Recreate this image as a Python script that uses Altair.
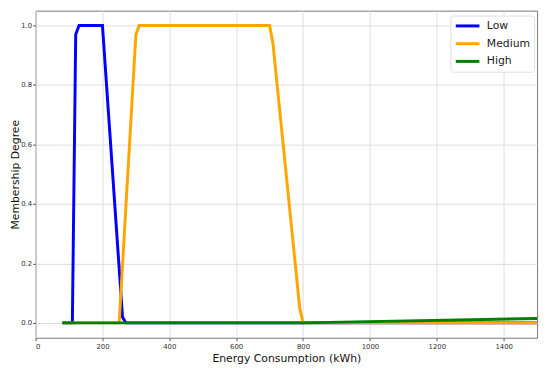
import altair as alt
import pandas as pd

low_x = [80, 110, 120, 130, 200, 260, 270, 1500]
low_y = [0.0, 0.0, 0.97, 1.0, 1.0, 0.02, 0.0, 0.0]
med_x = [80, 250, 300, 310, 700, 710, 790, 800, 1500]
med_y = [0.0, 0.0, 0.97, 1.0, 1.0, 0.94, 0.05, 0.0, 0.0]
high_x = [80, 800, 1500]
high_y = [0.0, 0.0, 0.015]

series = ["Low", "Medium", "High"]
colors = ["#0000ff", "#ffa500", "#008000"]

rows = []
for name, xs, ys in [("Low", low_x, low_y), ("Medium", med_x, med_y), ("High", high_x, high_y)]:
    for i, (x, y) in enumerate(zip(xs, ys)):
        rows.append({"x": x, "y": y, "set": name, "i": i})
df = pd.DataFrame(rows)

base = alt.Chart(df)
layers = []
for name in series:
    layers.append(
        base.transform_filter(alt.datum.set == name)
        .mark_line(strokeWidth=3, clip=True)
        .encode(
            x=alt.X("x:Q", scale=alt.Scale(domain=[0, 1500], nice=False),
                    axis=alt.Axis(values=list(range(0, 1401, 200)), format="d", title="Energy Consumption (kWh)")),
            y=alt.Y("y:Q", scale=alt.Scale(domain=[-0.05, 1.05], nice=False, zero=False),
                    axis=alt.Axis(values=[0, 0.2, 0.4, 0.6, 0.8, 1.0], format=".1f", title="Membership Degree")),
            color=alt.Color("set:N", scale=alt.Scale(domain=series, range=colors),
                            legend=alt.Legend(title=None, orient="none", legendX=421, legendY=5,
                                              symbolType="M-1,0H3.8", symbolStrokeWidth=3, symbolSize=100,
                                              labelFontSize=11, labelFont="DejaVu Sans", rowPadding=5,
                                              labelOffset=20,
                                              padding=4, strokeColor="#dddddd", fillColor="white",
                                              cornerRadius=3, labelColor="#222")),
            order="i:Q",
        )
    )

chart = alt.layer(*layers).properties(
    width=509, height=332,
    autosize=alt.AutoSizeParams(type="none"),
    padding={"left": 28, "top": 0, "right": 5, "bottom": 28},
).configure_view(stroke="#777", strokeWidth=1).configure_axis(
    grid=True, gridColor="#dddddd", gridWidth=1,
    domain=False, tickColor="#555", tickSize=3,
    labelFontSize=7, labelFont="DejaVu Sans", labelColor="#333",
    titleFontSize=11, titleFont="DejaVu Sans", titleFontWeight="normal", titleColor="#111",
).configure_axisX(labelPadding=2, titlePadding=3).configure_axisY(labelPadding=1, titlePadding=0)

chart.save("out.html", embed_options={"renderer": "svg", "actions": False})
